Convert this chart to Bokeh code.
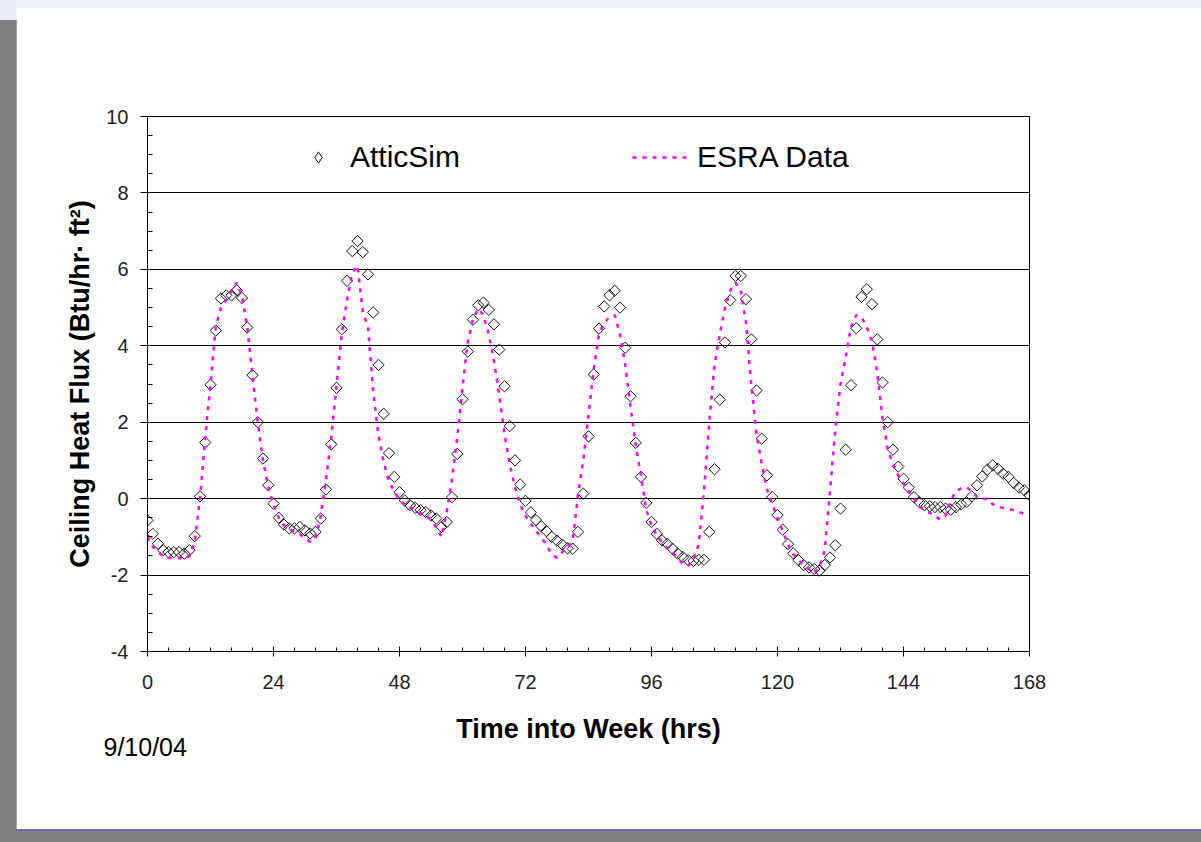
import numpy as np
from bokeh.plotting import figure
from bokeh.models import (Range1d, FixedTicker, Legend, LegendItem, Title, ColumnDataSource,
                          CustomJSTickFormatter)
from bokeh.embed import file_html
from bokeh.resources import INLINE

# ---------------- data ----------------
hours = list(range(0, 169))

atticsim = [
    -0.57, -0.92, -1.18, -1.35, -1.40, -1.40, -1.40, -1.44, -1.35, -0.98, 0.06, 1.47,
    2.98, 4.40, 5.24, 5.32, 5.32, 5.45, 5.25, 4.48, 3.23, 2.00, 1.05, 0.35,
    -0.13, -0.50, -0.68, -0.78, -0.78, -0.74, -0.83, -0.91, -0.87, -0.52, 0.24, 1.42,
    2.90, 4.43, 5.70, 6.48, 6.74, 6.45, 5.87, 4.87, 3.50, 2.22, 1.19, 0.57,
    0.17, -0.05, -0.17, -0.24, -0.30, -0.35, -0.44, -0.52, -0.74, -0.61, 0.04, 1.17,
    2.60, 3.85, 4.68, 5.06, 5.13, 4.94, 4.56, 3.90, 2.94, 1.90, 1.00, 0.37,
    -0.06, -0.36, -0.56, -0.72, -0.85, -1.00, -1.10, -1.20, -1.30, -1.31, -0.87, 0.13,
    1.63, 3.25, 4.45, 5.03, 5.32, 5.44, 5.00, 3.95, 2.68, 1.46, 0.57, -0.11,
    -0.61, -0.92, -1.09, -1.18, -1.31, -1.44, -1.53, -1.61, -1.63, -1.60, -1.60, -0.87,
    0.77, 2.59, 4.09, 5.19, 5.83, 5.83, 5.22, 4.17, 2.83, 1.57, 0.61, 0.04,
    -0.43, -0.81, -1.19, -1.43, -1.61, -1.74, -1.80, -1.84, -1.88, -1.74, -1.54, -1.22,
    -0.26, 1.28, 2.97, 4.46, 5.28, 5.48, 5.09, 4.17, 3.04, 2.00, 1.28, 0.84,
    0.52, 0.29, 0.04, -0.09, -0.17, -0.20, -0.22, -0.22, -0.26, -0.29, -0.22, -0.15,
    -0.09, 0.06, 0.35, 0.58, 0.76, 0.87, 0.78, 0.65, 0.57, 0.41, 0.29, 0.22, 0.09,
]

esra = [
    -1.00, -1.25, -1.40, -1.50, -1.55, -1.55, -1.55, -1.58, -1.50, -1.10, 0.00, 1.60,
    3.00, 4.50, 5.00, 5.20, 5.45, 5.65, 5.30, 4.50, 3.20, 2.00, 1.00, 0.30,
    -0.15, -0.50, -0.70, -0.80, -0.87, -0.92, -1.05, -1.13, -1.05, -0.45, 0.50, 1.60,
    2.95, 4.30, 5.20, 5.90, 6.10, 4.90, 4.50, 2.80, 1.65, 0.95, 0.45, 0.20,
    -0.05, -0.15, -0.22, -0.30, -0.38, -0.45, -0.55, -0.75, -1.00, -0.35, 0.50, 1.60,
    2.90, 4.10, 4.70, 4.97, 4.80, 4.30, 3.60, 2.70, 1.70, 0.90, 0.30, -0.15,
    -0.45, -0.65, -0.85, -1.00, -1.22, -1.45, -1.55, -1.40, -1.30, -1.10, 0.10, 1.00,
    2.20, 3.40, 4.30, 4.60, 4.75, 4.80, 4.30, 3.50, 2.40, 1.40, 0.60, -0.30,
    -0.70, -0.95, -1.15, -1.30, -1.42, -1.55, -1.72, -1.75, -1.60, -1.20, 0.20, 2.00,
    3.50, 4.30, 5.00, 5.45, 5.65, 5.45, 4.60, 3.00, 1.70, 0.90, 0.25, -0.15,
    -0.50, -0.85, -1.20, -1.45, -1.60, -1.75, -1.85, -1.95, -1.80, -1.35, 0.20, 1.80,
    3.00, 3.70, 4.50, 4.80, 4.75, 4.50, 4.10, 3.30, 2.10, 1.30, 0.90, 0.60,
    0.40, 0.20, 0.00, -0.20, -0.30, -0.37, -0.45, -0.55, -0.45, -0.05, 0.20, 0.27,
    0.30, 0.20, 0.05, 0.00, 0.00, -0.15, -0.20, -0.25, -0.28, -0.30, -0.35, -0.40, -0.42,
]

x_ticks = [0, 24, 48, 72, 96, 120, 144, 168]
x_minor_ticks = list(range(0, 169, 4))
y_ticks = [-4, -2, 0, 2, 4, 6, 8, 10]
y_minor_ticks = [v / 2 for v in range(-8, 21)]
grid_ticks = [-2, 0, 2, 4, 6, 8]

series_names = ["AtticSim", "ESRA Data"]
x_title = "Time into Week (hrs)"
y_title = "Ceiling Heat Flux (Btu/hr\u00b7 ft\u00b2)"
date_note = "9/10/04"

FONT = "Liberation Sans"

# ---------------- figure ----------------
p = figure(width=1185, height=822, output_backend="svg", toolbar_location=None,
           x_range=Range1d(0, 168), y_range=Range1d(-4, 10),
           min_border_left=131, min_border_right=172,
           min_border_top=109, min_border_bottom=178,
           background_fill_color="white", border_fill_color="white",
           outline_line_color="black", outline_line_width=1)
p.styles = {"box-shadow": "0 0 0 2px #6b6ba6"}

p.xgrid.visible = False
p.ygrid.ticker = FixedTicker(ticks=grid_ticks)
p.ygrid.grid_line_color = "black"
p.ygrid.grid_line_width = 1

int_fmt = CustomJSTickFormatter(code="return tick.toFixed(0);")

# x axis
xa = p.xaxis[0]
xa.ticker = FixedTicker(ticks=x_ticks, minor_ticks=x_minor_ticks)
xa.formatter = int_fmt
xa.axis_line_color = "black"
xa.major_tick_line_color = "black"
xa.minor_tick_line_color = "black"
xa.major_tick_in = 5
xa.major_tick_out = 5
xa.minor_tick_in = 4
xa.minor_tick_out = 0
xa.major_label_standoff = 18
xa.major_label_text_font = FONT
xa.major_label_text_font_size = "20px"
xa.major_label_text_color = "#222222"
xa.axis_label = x_title
xa.axis_label_text_font = FONT
xa.axis_label_text_font_size = "27px"
xa.axis_label_text_font_style = "bold"
xa.axis_label_text_color = "black"
xa.axis_label_standoff = 22

# y axis
ya = p.yaxis[0]
ya.ticker = FixedTicker(ticks=y_ticks, minor_ticks=y_minor_ticks)
ya.formatter = int_fmt
ya.axis_line_color = "black"
ya.major_tick_line_color = "black"
ya.minor_tick_line_color = "black"
ya.major_tick_in = 0
ya.major_tick_out = 7
ya.minor_tick_in = 5
ya.minor_tick_out = 0
ya.major_label_standoff = 12
ya.major_label_text_font = FONT
ya.major_label_text_font_size = "20px"
ya.major_label_text_color = "#222222"
ya.axis_label = y_title
ya.axis_label_text_font = FONT
ya.axis_label_text_font_size = "27px"
ya.axis_label_text_font_style = "bold"
ya.axis_label_text_color = "black"
ya.axis_label_standoff = 8

# ---------------- data renderers ----------------
src = ColumnDataSource(dict(hours=hours, atticsim=atticsim, esra=esra))
r_sim = p.scatter("hours", "atticsim", source=src, marker="square", angle=np.pi / 4,
                  size=8, fill_alpha=0, line_color="#111111", line_width=1)
r_esra = p.line("hours", "esra", source=src, line_color="#ff00ff", line_width=2.5,
                line_dash="4 6")
# legend key only (zero-size in the plot; the legend sizes its own glyph)
r_key = p.scatter("hours", "atticsim", source=src, marker="diamond", size=0,
                  fill_alpha=0, line_color="#111111", line_width=1)

leg_common = dict(orientation="horizontal", padding=0, margin=0,
                  border_line_alpha=0, background_fill_alpha=0,
                  label_text_font=FONT, label_text_font_size="30px",
                  label_text_color="black", label_height=24)
leg1 = Legend(items=[LegendItem(label=series_names[0], renderers=[r_key])],
              location=(157, 477), glyph_width=28, glyph_height=28,
              label_standoff=18, **leg_common)
leg2 = Legend(items=[LegendItem(label=series_names[1], renderers=[r_esra])],
              location=(485, 477), glyph_width=56, glyph_height=24,
              label_standoff=9, **leg_common)
p.add_layout(leg1)
p.add_layout(leg2)

p.add_layout(Title(text=date_note, align="left", vertical_align="top",
                   offset=-44, standoff=-28, text_font=FONT,
                   text_font_size="25px", text_font_style="normal",
                   text_color="black"), "below")

html = file_html(p, INLINE, title="Ceiling Heat Flux")
style = ("<style>html{margin:0;padding:0;}"
         "body{margin:7px 0 0 16px;background-color:#808080;"
         "background-image:linear-gradient(#eceef7,#eceef7);"
         "background-repeat:no-repeat;background-size:100% 20px;}</style>")
html = html.replace("</head>", style + "</head>", 1)
open("out.html", "w").write(html)
